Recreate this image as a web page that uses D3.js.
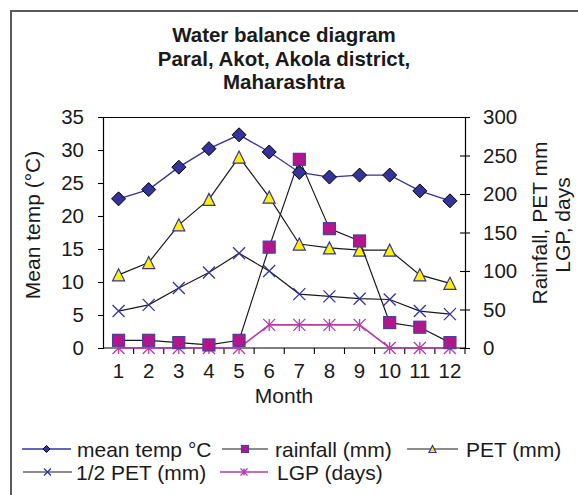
<!DOCTYPE html>
<html>
<head>
<meta charset="utf-8">
<script src="https://cdn.jsdelivr.net/npm/d3@7/dist/d3.min.js"></script>
<style>
  html, body { margin: 0; padding: 0; background: #fff; }
  svg { display: block; }
  text { font-family: "Liberation Sans", Arial, sans-serif; fill: #1a1a1a; }
</style>
</head>
<body>
<svg id="chart" width="578" height="495"></svg>
<script>
// Monthly water balance, Paral (Akot, Akola district, Maharashtra)
const months   = [1, 2, 3, 4, 5, 6, 7, 8, 9, 10, 11, 12];
const meanTemp = [22.6, 24.0, 27.4, 30.2, 32.3, 29.7, 26.6, 25.9, 26.2, 26.2, 23.8, 22.3]; // °C, left axis
const rainfall = [10, 10, 7, 4, 10, 131, 245, 155, 139, 33, 27, 7];                     // mm, right axis
const pet      = [95, 111, 160, 193, 248, 196, 135, 130, 127, 127, 95, 84];               // mm, right axis
const halfPet  = [48, 56, 78, 98, 123, 100, 70, 67, 64, 63, 48, 44];                      // mm, right axis
const lgp      = [0, 0, 0, 0, 0, 30, 30, 30, 30, 0, 0, 0];                                 // days, right axis
const tempTicks = [0, 5, 10, 15, 20, 25, 30, 35];
const rightTicks = [0, 50, 100, 150, 200, 250, 300];
const titleLines = ["Water balance diagram", "Paral, Akot, Akola district,", "Maharashtra"];

const NAVY = "#333399", MAGENTA = "#b3168c", LGPC = "#b43cab", YELLOW = "#fff200";

const svg = d3.select("#chart");

// outer chart frame
svg.append("rect").attr("x", 11).attr("y", 11).attr("width", 620).attr("height", 520)
  .attr("fill", "none").attr("stroke", "#595959").attr("stroke-width", 2);

const plot = { left: 103, right: 465, top: 117, bottom: 348 };

const x = d3.scaleBand().domain(months).range([plot.left + 0.5, plot.right]);
const cx = d => x(d) + x.bandwidth() / 2;
const yL = d3.scaleLinear().domain([0, 35]).range([plot.bottom, plot.top]);
const yR = d3.scaleLinear().domain([0, 300]).range([plot.bottom, plot.top]);

// title
const title = svg.append("text").attr("text-anchor", "middle")
  .style("font-weight", "bold").style("font-size", "20.5px");
titleLines.forEach((t, i) => {
  title.append("tspan").attr("x", 284).attr("y", 42 + i * 23.5).text(t);
});

// plot frame top line
svg.append("line").attr("x1", plot.left).attr("x2", plot.right)
  .attr("y1", plot.top + 0.5).attr("y2", plot.top + 0.5)
  .attr("stroke", "#000").attr("stroke-width", 1.2);

// left axis
const axL = svg.append("g").attr("transform", `translate(${plot.left},0)`)
  .call(d3.axisLeft(yL).tickValues(tempTicks).tickSize(5).tickPadding(14).tickFormat(d3.format("d")));
// right axis
const axR = svg.append("g").attr("transform", `translate(${plot.right},0)`)
  .call(d3.axisRight(yR).tickValues(rightTicks).tickSize(5).tickPadding(13).tickFormat(d3.format("d")));
axR.selectAll(".tick line").attr("x1", -5);
// bottom axis (labels at month centres, ticks at month boundaries)
const axB = svg.append("g").attr("transform", `translate(0,${plot.bottom})`)
  .call(d3.axisBottom(x).tickSize(0).tickPadding(15));
axB.selectAll(".tick").each(function (d) {
  d3.select(this).append("line").attr("x1", x.bandwidth() / 2).attr("x2", x.bandwidth() / 2)
    .attr("y1", 0).attr("y2", 6).attr("stroke", "#000");
});
[axL, axR, axB].forEach(g => {
  g.select(".domain").attr("stroke", "#000").attr("stroke-width", 1.2);
  g.selectAll(".tick line").attr("stroke", "#000").attr("stroke-width", 1.1);
  g.selectAll("text").style("font-size", "20.5px").attr("fill", "#1a1a1a")
    .style("font-family", "'Liberation Sans', Arial, sans-serif");
});
axB.select(".domain").attr("d", `M${plot.left},0H${plot.right}`);

// axis titles
svg.append("text").attr("transform", "translate(40,225) rotate(-90)")
  .attr("text-anchor", "middle").style("font-size", "21px").text("Mean temp (°C)");
svg.append("text").attr("transform", "translate(547,223) rotate(-90)")
  .attr("text-anchor", "middle").style("font-size", "21px").text("Rainfall, PET mm");
svg.append("text").attr("transform", "translate(570,225) rotate(-90)")
  .attr("text-anchor", "middle").style("font-size", "21px").text("LGP, days");
svg.append("text").attr("x", 284).attr("y", 403).attr("text-anchor", "middle")
  .style("font-size", "21px").text("Month");

// marker drawing helpers
function marker(g, kind, s) {
  const h = s / 2;
  if (kind === "diamond") {
    g.append("path").attr("d", `M0,${-h}L${h},0L0,${h}L${-h},0Z`)
      .attr("fill", NAVY).attr("stroke", "#000").attr("stroke-width", 1);
  } else if (kind === "square") {
    g.append("rect").attr("x", -h).attr("y", -h).attr("width", s).attr("height", s)
      .attr("fill", MAGENTA).attr("stroke", "#4a3f9c").attr("stroke-width", 1.2);
  } else if (kind === "triangle") {
    g.append("path").attr("d", `M0,${-h}L${h},${h}L${-h},${h}Z`)
      .attr("fill", YELLOW).attr("stroke", NAVY).attr("stroke-width", 1.2);
  } else if (kind === "x") {
    g.append("path").attr("d", `M${-h},${-h}L${h},${h}M${-h},${h}L${h},${-h}`)
      .attr("stroke", NAVY).attr("stroke-width", 1.3).attr("fill", "none");
  } else if (kind === "star") {
    g.append("path").attr("d", `M${-h},${-h}L${h},${h}M${-h},${h}L${h},${-h}M0,${-h}L0,${h}`)
      .attr("stroke", LGPC).attr("stroke-width", 1.3).attr("fill", "none");
  }
}

const series = [
  { name: "LGP (days)", values: lgp, y: yR, line: LGPC, lw: 1.6, kind: "star", size: 12 },
  { name: "1/2 PET (mm)", values: halfPet, y: yR, line: "#1a1a1a", lw: 1.2, kind: "x", size: 12 },
  { name: "PET (mm)", values: pet, y: yR, line: "#1a1a1a", lw: 1.2, kind: "triangle", size: 12 },
  { name: "rainfall (mm)", values: rainfall, y: yR, line: "#1a1a1a", lw: 1.2, kind: "square", size: 12 },
  { name: "mean temp °C", values: meanTemp, y: yL, line: NAVY, lw: 1.3, kind: "diamond", size: 14 }
];

series.forEach(s => {
  const pts = months.map((m, i) => [cx(m), s.y(s.values[i])]);
  svg.append("path").attr("d", d3.line()(pts)).attr("fill", "none")
    .attr("stroke", s.line).attr("stroke-width", s.lw);
  pts.forEach(p => marker(svg.append("g").attr("transform", `translate(${p[0]},${p[1]})`), s.kind, s.size));
});

// legend
const legendItems = [
  { s: series[4], x0: 22, x1: 71, tx: 77, y: 449 },
  { s: series[3], x0: 222, x1: 268, tx: 275, y: 449 },
  { s: series[2], x0: 407, x1: 458, tx: 466, y: 449 },
  { s: series[1], x0: 23, x1: 72, tx: 76, y: 472 },
  { s: series[0], x0: 220, x1: 268, tx: 277, y: 472 }
];
legendItems.forEach(it => {
  svg.append("line").attr("x1", it.x0).attr("x2", it.x1).attr("y1", it.y).attr("y2", it.y)
    .attr("stroke", it.s.line).attr("stroke-width", it.s.lw);
  marker(svg.append("g").attr("transform", `translate(${(it.x0 + it.x1) / 2},${it.y})`), it.s.kind, 7);
  svg.append("text").attr("x", it.tx).attr("y", it.y + 7.5).style("font-size", "21px").text(it.s.name);
});
</script>
</body>
</html>
